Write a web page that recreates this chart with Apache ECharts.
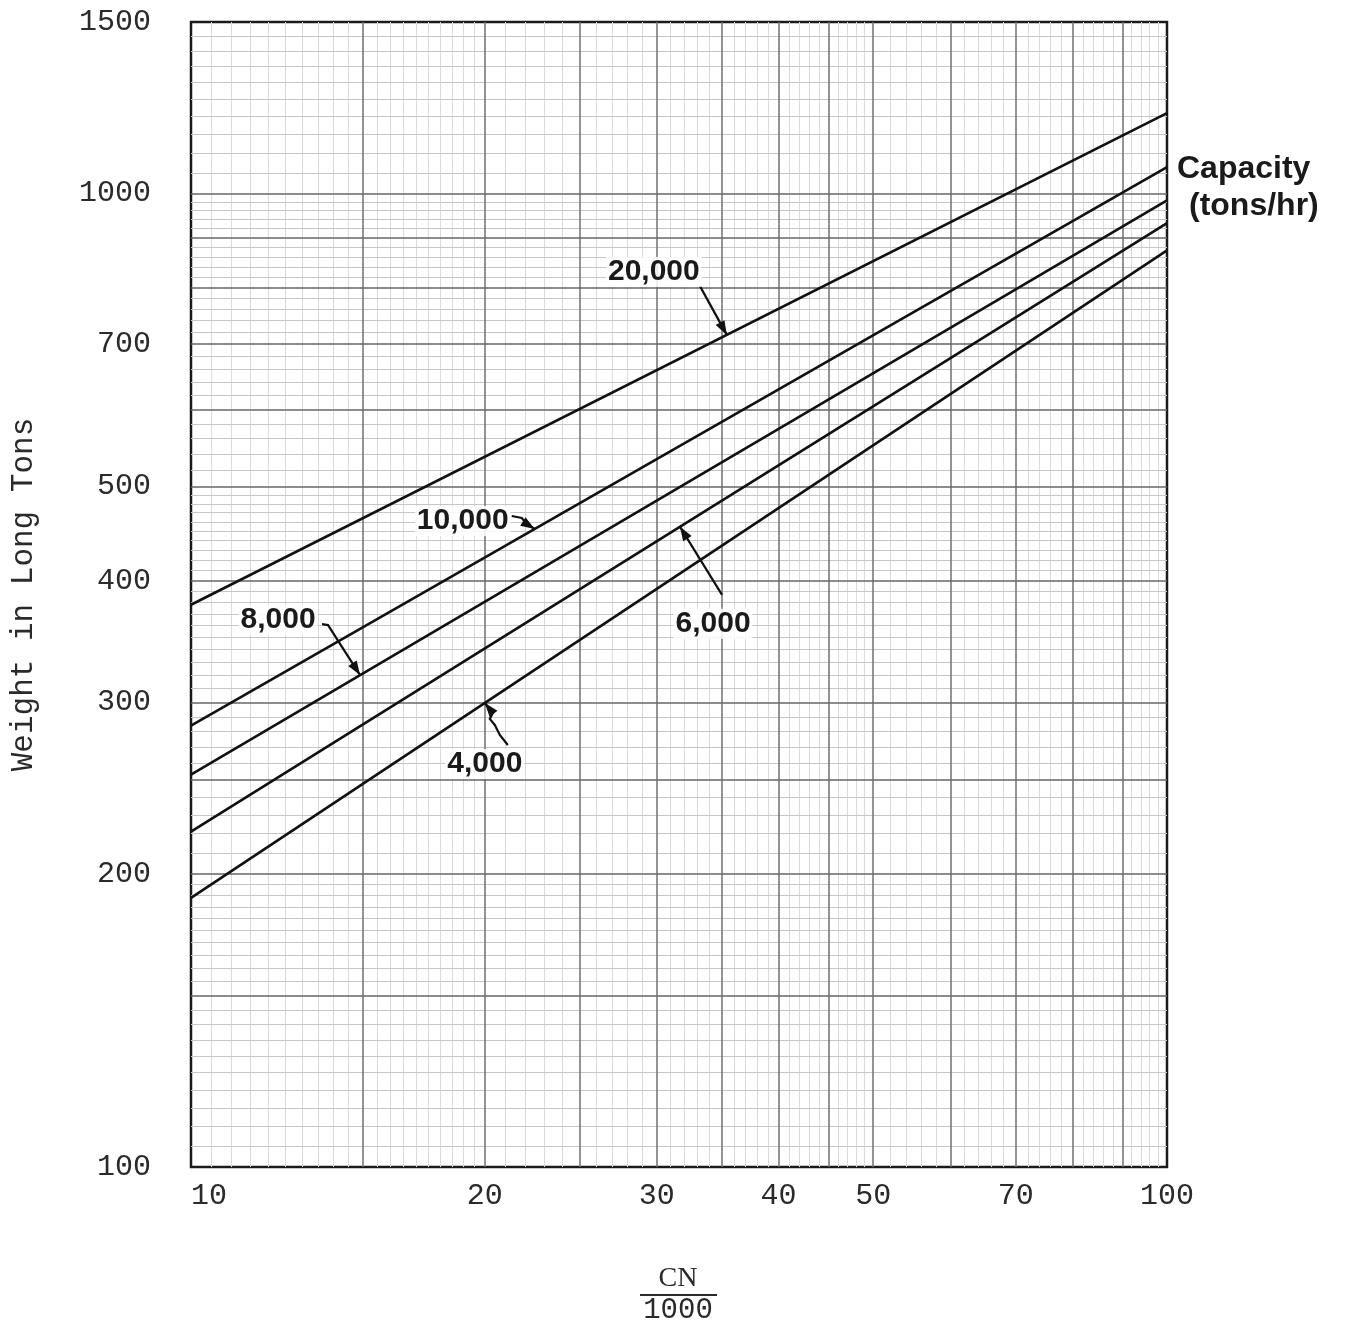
<!DOCTYPE html>
<html>
<head>
<meta charset="utf-8">
<script src="https://cdn.jsdelivr.net/npm/echarts@6/dist/echarts.min.js"></script>
<style>
html,body{margin:0;padding:0;background:#fff;}
#chart{width:1348px;height:1326px;}
</style>
</head>
<body>
<div id="chart"></div>
<script>
// ---- data ----
const xTickLabels = [10, 20, 30, 40, 50, 70, 100];
const yTickLabels = [100, 200, 300, 400, 500, 700, 1000, 1500];
const xMajorGrid = [15, 20, 25, 30, 35, 40, 45, 50, 60, 70, 80, 90];
const yMajorGrid = [150, 200, 250, 300, 400, 500, 600, 700, 800, 900, 1000];
const capacityNames = ['20,000', '10,000', '8,000', '6,000', '4,000'];
const cnValues = [10, 100];
const weight20000 = [378, 1209];
const weight10000 = [284, 1064];
const weight8000 = [253, 984];
const weight6000 = [221, 932];
const weight4000 = [189, 874];
const annotationX = [35.4, 22.5, 14.9, 31.7, 20];

const seriesWeights = [weight20000, weight10000, weight8000, weight6000, weight4000];

// graph-paper minor lines (ruling of the paper)
function range(a, b, s) { const r = []; for (let v = a + s; v < b - 1e-9; v += s) r.push(+v.toFixed(3)); return r; }
const xMinorGrid = [].concat(range(10, 20, 0.5), range(20, 50, 1), range(50, 100, 2))
  .filter(v => xMajorGrid.indexOf(v) < 0);
const yMinorGrid = [].concat(range(100, 200, 5), range(200, 500, 10), range(500, 1000, 20), range(1000, 1500, 50))
  .filter(v => yMajorGrid.indexOf(v) < 0);

const monoFont = '"Liberation Mono", "DejaVu Sans Mono", monospace';
const boldFont = '"Liberation Sans", Arial, sans-serif';

const chart = echarts.init(document.getElementById('chart'), null, {renderer: 'canvas'});

function gridLayer(values, axisKey, color, width, z) {
  return {
    type: 'line', data: [], silent: true, z: z,
    markLine: {
      silent: true, symbol: ['none', 'none'], animation: false, label: {show: false},
      lineStyle: {color: color, width: width, type: 'solid'},
      emphasis: {disabled: true},
      data: values.map(v => ({[axisKey]: v}))
    }
  };
}

const series = [
  gridLayer(xMinorGrid, 'xAxis', '#dadada', 1, 1),
  gridLayer(yMinorGrid, 'yAxis', '#c6c6c6', 1, 1),
  gridLayer(xMajorGrid, 'xAxis', '#707070', 1.5, 2),
  gridLayer(yMajorGrid, 'yAxis', '#666666', 1.5, 2)
];
capacityNames.forEach((name, i) => {
  series.push({
    name: name, type: 'line', z: 5, symbol: 'none', silent: true,
    lineStyle: {color: '#111', width: 2.6},
    data: cnValues.map((x, j) => [x, seriesWeights[i][j]])
  });
});

const option = {
  animation: false,
  backgroundColor: '#ffffff',
  grid: {left: 190, right: 181, top: 22, bottom: 159, show: true, borderColor: '#1a1a1a', borderWidth: 2.5, backgroundColor: 'transparent'},
  xAxis: {
    type: 'log', logBase: 10, min: 10, max: 100,
    axisLine: {show: false}, axisTick: {show: false}, splitLine: {show: false},
    axisLabel: {customValues: xTickLabels, fontFamily: monoFont, fontSize: 30, color: '#2a2a2a', margin: 14, alignMinLabel: 'left', alignMaxLabel: 'center', formatter: v => String(v)}
  },
  yAxis: {
    type: 'log', logBase: 10, min: 100, max: 1500,
    axisLine: {show: false}, axisTick: {show: false}, splitLine: {show: false},
    axisLabel: {customValues: yTickLabels, fontFamily: monoFont, fontSize: 30, color: '#2a2a2a', margin: 40, formatter: v => String(v)},
    name: 'Weight in Long Tons', nameLocation: 'middle', nameGap: 152, nameRotate: 90,
    nameTextStyle: {fontFamily: monoFont, fontSize: 31, color: '#2a2a2a'}
  },
  series: series
};
chart.setOption(option);

// ---- annotations anchored to the data lines ----
function weightAt(i, x) {
  const w = seriesWeights[i];
  const t = (Math.log10(x) - Math.log10(cnValues[0])) / (Math.log10(cnValues[1]) - Math.log10(cnValues[0]));
  return Math.pow(10, Math.log10(w[0]) + t * (Math.log10(w[1]) - Math.log10(w[0])));
}
// label offsets and leader paths (pixel offsets relative to the arrow tip)
const labelOffsets = [[-73, -63], [-72, -8], [-82, -55], [33, 97], [0, 61]];
const leaderPaths = [
  [[-27, -49], [0, 0]],
  [[-23, -13], [-13, -11], [-8, -5], [0, 0]],
  [[-38, -51], [-32, -50], [0, 0]],
  [[42, 68], [0, 0]],
  [[23, 42], [15, 32], [10, 22], [5, 16], [8, 10], [0, 0]]
];
const graphics = [];
capacityNames.forEach((name, i) => {
  const x = annotationX[i];
  const tip = chart.convertToPixel({gridIndex: 0}, [x, weightAt(i, x)]);
  const pts = leaderPaths[i].map(p => [tip[0] + p[0], tip[1] + p[1]]);
  graphics.push({type: 'polyline', z: 20, shape: {points: pts}, style: {stroke: '#111', lineWidth: 2.2, fill: null}});
  const a = pts[pts.length - 2], b = pts[pts.length - 1];
  const dx = b[0] - a[0], dy = b[1] - a[1], L = Math.hypot(dx, dy);
  const ux = dx / L, uy = dy / L, hl = 14, hw = 5;
  graphics.push({type: 'polygon', z: 21, shape: {points: [
    [b[0], b[1]],
    [b[0] - ux * hl - uy * hw, b[1] - uy * hl + ux * hw],
    [b[0] - ux * hl + uy * hw, b[1] - uy * hl - ux * hw]
  ]}, style: {fill: '#111'}});
  graphics.push({type: 'text', z: 22, x: tip[0] + labelOffsets[i][0], y: tip[1] + labelOffsets[i][1],
    style: {text: name, font: 'bold 30px ' + boldFont, fill: '#1a1a1a', align: 'center', verticalAlign: 'middle',
      backgroundColor: 'rgba(255,255,255,0.85)', padding: [0, 2]}});
});
// caption at right
graphics.push({type: 'text', left: 1177, top: 153, style: {text: 'Capacity', font: 'bold 32px ' + boldFont, fill: '#1a1a1a'}});
graphics.push({type: 'text', left: 1189, top: 190, style: {text: '(tons/hr)', font: 'bold 32px ' + boldFont, fill: '#1a1a1a'}});
// x axis title as fraction CN / 1000
graphics.push({type: 'text', x: 678, y: 1279, style: {text: 'CN', font: '28px "Liberation Serif", "DejaVu Serif", serif', fill: '#2a2a2a', align: 'center', verticalAlign: 'middle'}});
graphics.push({type: 'line', shape: {x1: 640, y1: 1295, x2: 717, y2: 1295}, style: {stroke: '#2a2a2a', lineWidth: 2}});
graphics.push({type: 'text', x: 678, y: 1310, style: {text: '1000', font: '29px ' + monoFont, fill: '#2a2a2a', align: 'center', verticalAlign: 'middle'}});

chart.setOption({graphic: graphics});
</script>
</body>
</html>
